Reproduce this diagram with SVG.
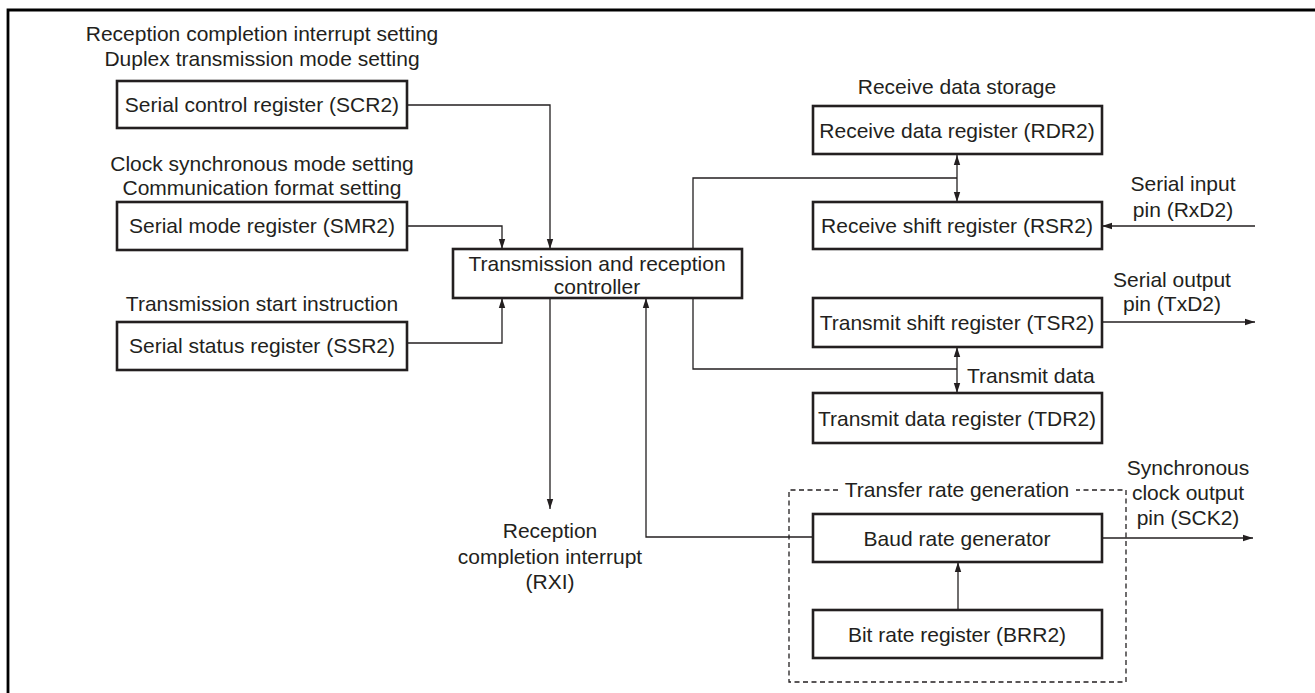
<svg xmlns="http://www.w3.org/2000/svg" width="1315" height="693" viewBox="0 0 1315 693">
<defs>
<marker id="ah" viewBox="0 0 10 8" refX="10" refY="4" markerWidth="10" markerHeight="8" markerUnits="userSpaceOnUse" orient="auto-start-reverse">
<path d="M0,0.8 L10,4 L0,7.2 Z" fill="#231f20"/>
</marker>
</defs>
<style>
text{font-family:"Liberation Sans",Arial,sans-serif;font-size:21px;fill:#231f20;text-anchor:middle}
.box{fill:#fff;stroke:#231f20;stroke-width:2.6}
.c{fill:none;stroke:#231f20;stroke-width:1.3}
.a{marker-end:url(#ah)}
.b{marker-start:url(#ah);marker-end:url(#ah)}
.dash{fill:none;stroke:#231f20;stroke-width:1.3;stroke-dasharray:5 3.5}
.l{text-anchor:start}
</style>
<rect width="1315" height="693" fill="#fff"/>
<path d="M8,693 V10 H1315" fill="none" stroke="#000" stroke-width="2.8"/>

<g id="connectors">
<path class="c a" d="M407,105 H550 V249"/>
<path class="c a" d="M407,226 H502 V249"/>
<path class="c a" d="M407,343 H502 V298"/>
<path class="c a" d="M550,298 V509"/>
<path class="c a" d="M813,537 H646 V298"/>
<path class="c" d="M693,249 V178 H957"/>
<path class="c b" d="M957,155 V202"/>
<path class="c" d="M693,298 V369 H957"/>
<path class="c b" d="M957,347 V393"/>
<path class="c a" d="M1255,226 H1102"/>
<path class="c a" d="M1102,322 H1255"/>
<path class="c a" d="M958,610 V562"/>
<path class="c a" d="M1102,538 H1253"/>
</g>

<g id="transfer-rate-group">
<path class="dash" d="M838,490 H789 V682 H1126 V490 H1076"/>
<text x="957" y="497">Transfer rate generation</text>
</g>

<g id="scr2">
<text x="262" y="41">Reception completion interrupt setting</text>
<text x="262" y="66">Duplex transmission mode setting</text>
<rect class="box" x="117" y="81" width="290" height="47"/>
<text x="262" y="112">Serial control register (SCR2)</text>
</g>

<g id="smr2">
<text x="262" y="171">Clock synchronous mode setting</text>
<text x="262" y="195">Communication format setting</text>
<rect class="box" x="117" y="202" width="290" height="48"/>
<text x="262" y="233">Serial mode register (SMR2)</text>
</g>

<g id="ssr2">
<text x="262" y="311">Transmission start instruction</text>
<rect class="box" x="117" y="322" width="290" height="48"/>
<text x="262" y="353">Serial status register (SSR2)</text>
</g>

<g id="controller">
<rect class="box" x="453" y="249" width="289" height="49"/>
<text x="597" y="271">Transmission and reception</text>
<text x="597" y="294">controller</text>
</g>

<g id="rxi">
<text x="550" y="538">Reception</text>
<text x="550" y="564">completion interrupt</text>
<text x="550" y="589">(RXI)</text>
</g>

<g id="rdr2">
<text x="957" y="94">Receive data storage</text>
<rect class="box" x="813" y="106" width="289" height="48"/>
<text x="957" y="138">Receive data register (RDR2)</text>
</g>

<g id="rsr2">
<rect class="box" x="813" y="202" width="289" height="47"/>
<text x="957" y="233">Receive shift register (RSR2)</text>
</g>

<g id="rxd2">
<text x="1183" y="191">Serial input</text>
<text x="1183" y="217">pin (RxD2)</text>
</g>

<g id="tsr2">
<rect class="box" x="813" y="298" width="289" height="49"/>
<text x="957" y="330">Transmit shift register (TSR2)</text>
</g>

<g id="txd2">
<text x="1172" y="287">Serial output</text>
<text x="1172" y="311">pin (TxD2)</text>
</g>

<g id="tdr2">
<text class="l" x="967" y="383">Transmit data</text>
<rect class="box" x="813" y="393" width="289" height="50"/>
<text x="957" y="426">Transmit data register (TDR2)</text>
</g>

<g id="baud">
<rect class="box" x="813" y="514" width="289" height="48"/>
<text x="957" y="546">Baud rate generator</text>
</g>

<g id="brr2">
<rect class="box" x="813" y="610" width="289" height="48"/>
<text x="957" y="642">Bit rate register (BRR2)</text>
</g>

<g id="sck2">
<text x="1188" y="475">Synchronous</text>
<text x="1188" y="500">clock output</text>
<text x="1188" y="525">pin (SCK2)</text>
</g>
</svg>
